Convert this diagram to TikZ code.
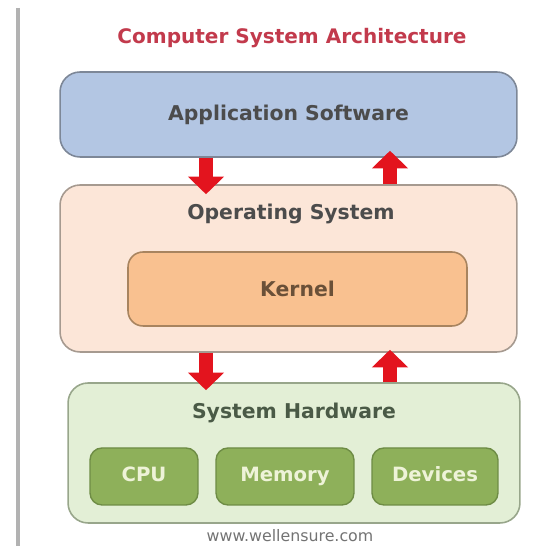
\documentclass[tikz,border=0pt]{standalone}
\usepackage{fontspec}
\setmainfont{DejaVu Sans}
\usetikzlibrary{arrows.meta}
\definecolor{titlered}{HTML}{C23A4C}
\definecolor{appfill}{HTML}{B3C6E3}
\definecolor{appline}{HTML}{7D8797}
\definecolor{osfill}{HTML}{FCE6D8}
\definecolor{osline}{HTML}{A69A90}
\definecolor{kernfill}{HTML}{F9C190}
\definecolor{kernline}{HTML}{A8845F}
\definecolor{kerntext}{HTML}{6A5038}
\definecolor{hwfill}{HTML}{E3EFD6}
\definecolor{hwline}{HTML}{98A68B}
\definecolor{hwtext}{HTML}{4A5A46}
\definecolor{partfill}{HTML}{8EB05A}
\definecolor{partline}{HTML}{6E8C45}
\definecolor{parttext}{HTML}{EEF3D8}
\definecolor{arrowred}{HTML}{E3141E}

\begin{document}
\begin{tikzpicture}[x=0.02cm,y=-0.02cm,
    layer/.style={draw=#1,line width=0.9pt,rounded corners=0.4cm,inner sep=0pt},
    caption/.style={font=\bfseries\fontsize{11.6}{13}\selectfont,text=black!70},
    part/.style={draw=partline,fill=partfill,line width=0.8pt,rounded corners=0.24cm,
        minimum height=1.14cm,text height=0.75em,text depth=0.22em,
        font=\bfseries\fontsize{11.2}{13}\selectfont,text=parttext},
    bigarrow/.style={draw=arrowred,line width=7.9pt,-{Triangle[width=20pt,length=10pt]}}]
    \useasboundingbox (0,0) rectangle (549,546);
    % left rule
    \draw[black!30,line width=2pt] (18,8) -- (18,546);
    % title
    \node[font=\bfseries\fontsize{11.4}{13}\selectfont,text=titlered] (title) at (292,38) {Computer System Architecture};
    % layers
    \node[layer=appline,fill=appfill,minimum width=9.14cm,minimum height=1.7cm] (app) at (288.5,114.5) {};
    \node[caption] (apptxt) at (app) {Application Software};
    \node[layer=osline,fill=osfill,minimum width=9.14cm,minimum height=3.34cm] (os) at (288.5,268.5) {};
    \node[caption] (ostxt) at (291,214) {Operating System};
    \node[layer=kernline,fill=kernfill,rounded corners=0.3cm,minimum width=6.78cm,minimum height=1.48cm] (kernel) at (297.5,289) {};
    \node[caption,text=kerntext] (kerntxt) at (kernel) {Kernel};
    \node[layer=hwline,fill=hwfill,minimum width=9.04cm,minimum height=2.8cm] (hw) at (294,453) {};
    \node[caption,text=hwtext] (hwtxt) at (294,413) {System Hardware};
    % hardware parts
    \foreach \name/\txt/\x/\w in {cpu/CPU/144/2.16,mem/Memory/285/2.76,dev/Devices/435/2.52}{
        \node[part,minimum width=\w cm] (\name) at (\x,476.5) {\txt};
    }
    % arrows between layers
    \coordinate (dl) at (206,0);
    \coordinate (ul) at (390,0);
    \draw[bigarrow,shorten >=-0.2cm] (app.south -| dl) -- (os.north -| dl);
    \draw[bigarrow,shorten >=-0.14cm] (os.north -| ul) -- (app.south -| ul);
    \draw[bigarrow,shorten >=-0.16cm] (os.south -| dl) -- (hw.north -| dl);
    \draw[bigarrow,shorten >=-0.06cm] (hw.north -| ul) -- (os.south -| ul);
    % source line
    \node[font=\fontsize{9}{10}\selectfont,text=black!55,inner sep=1pt] (url) at (290,536) {www.wellensure.com};
\end{tikzpicture}
\end{document}
